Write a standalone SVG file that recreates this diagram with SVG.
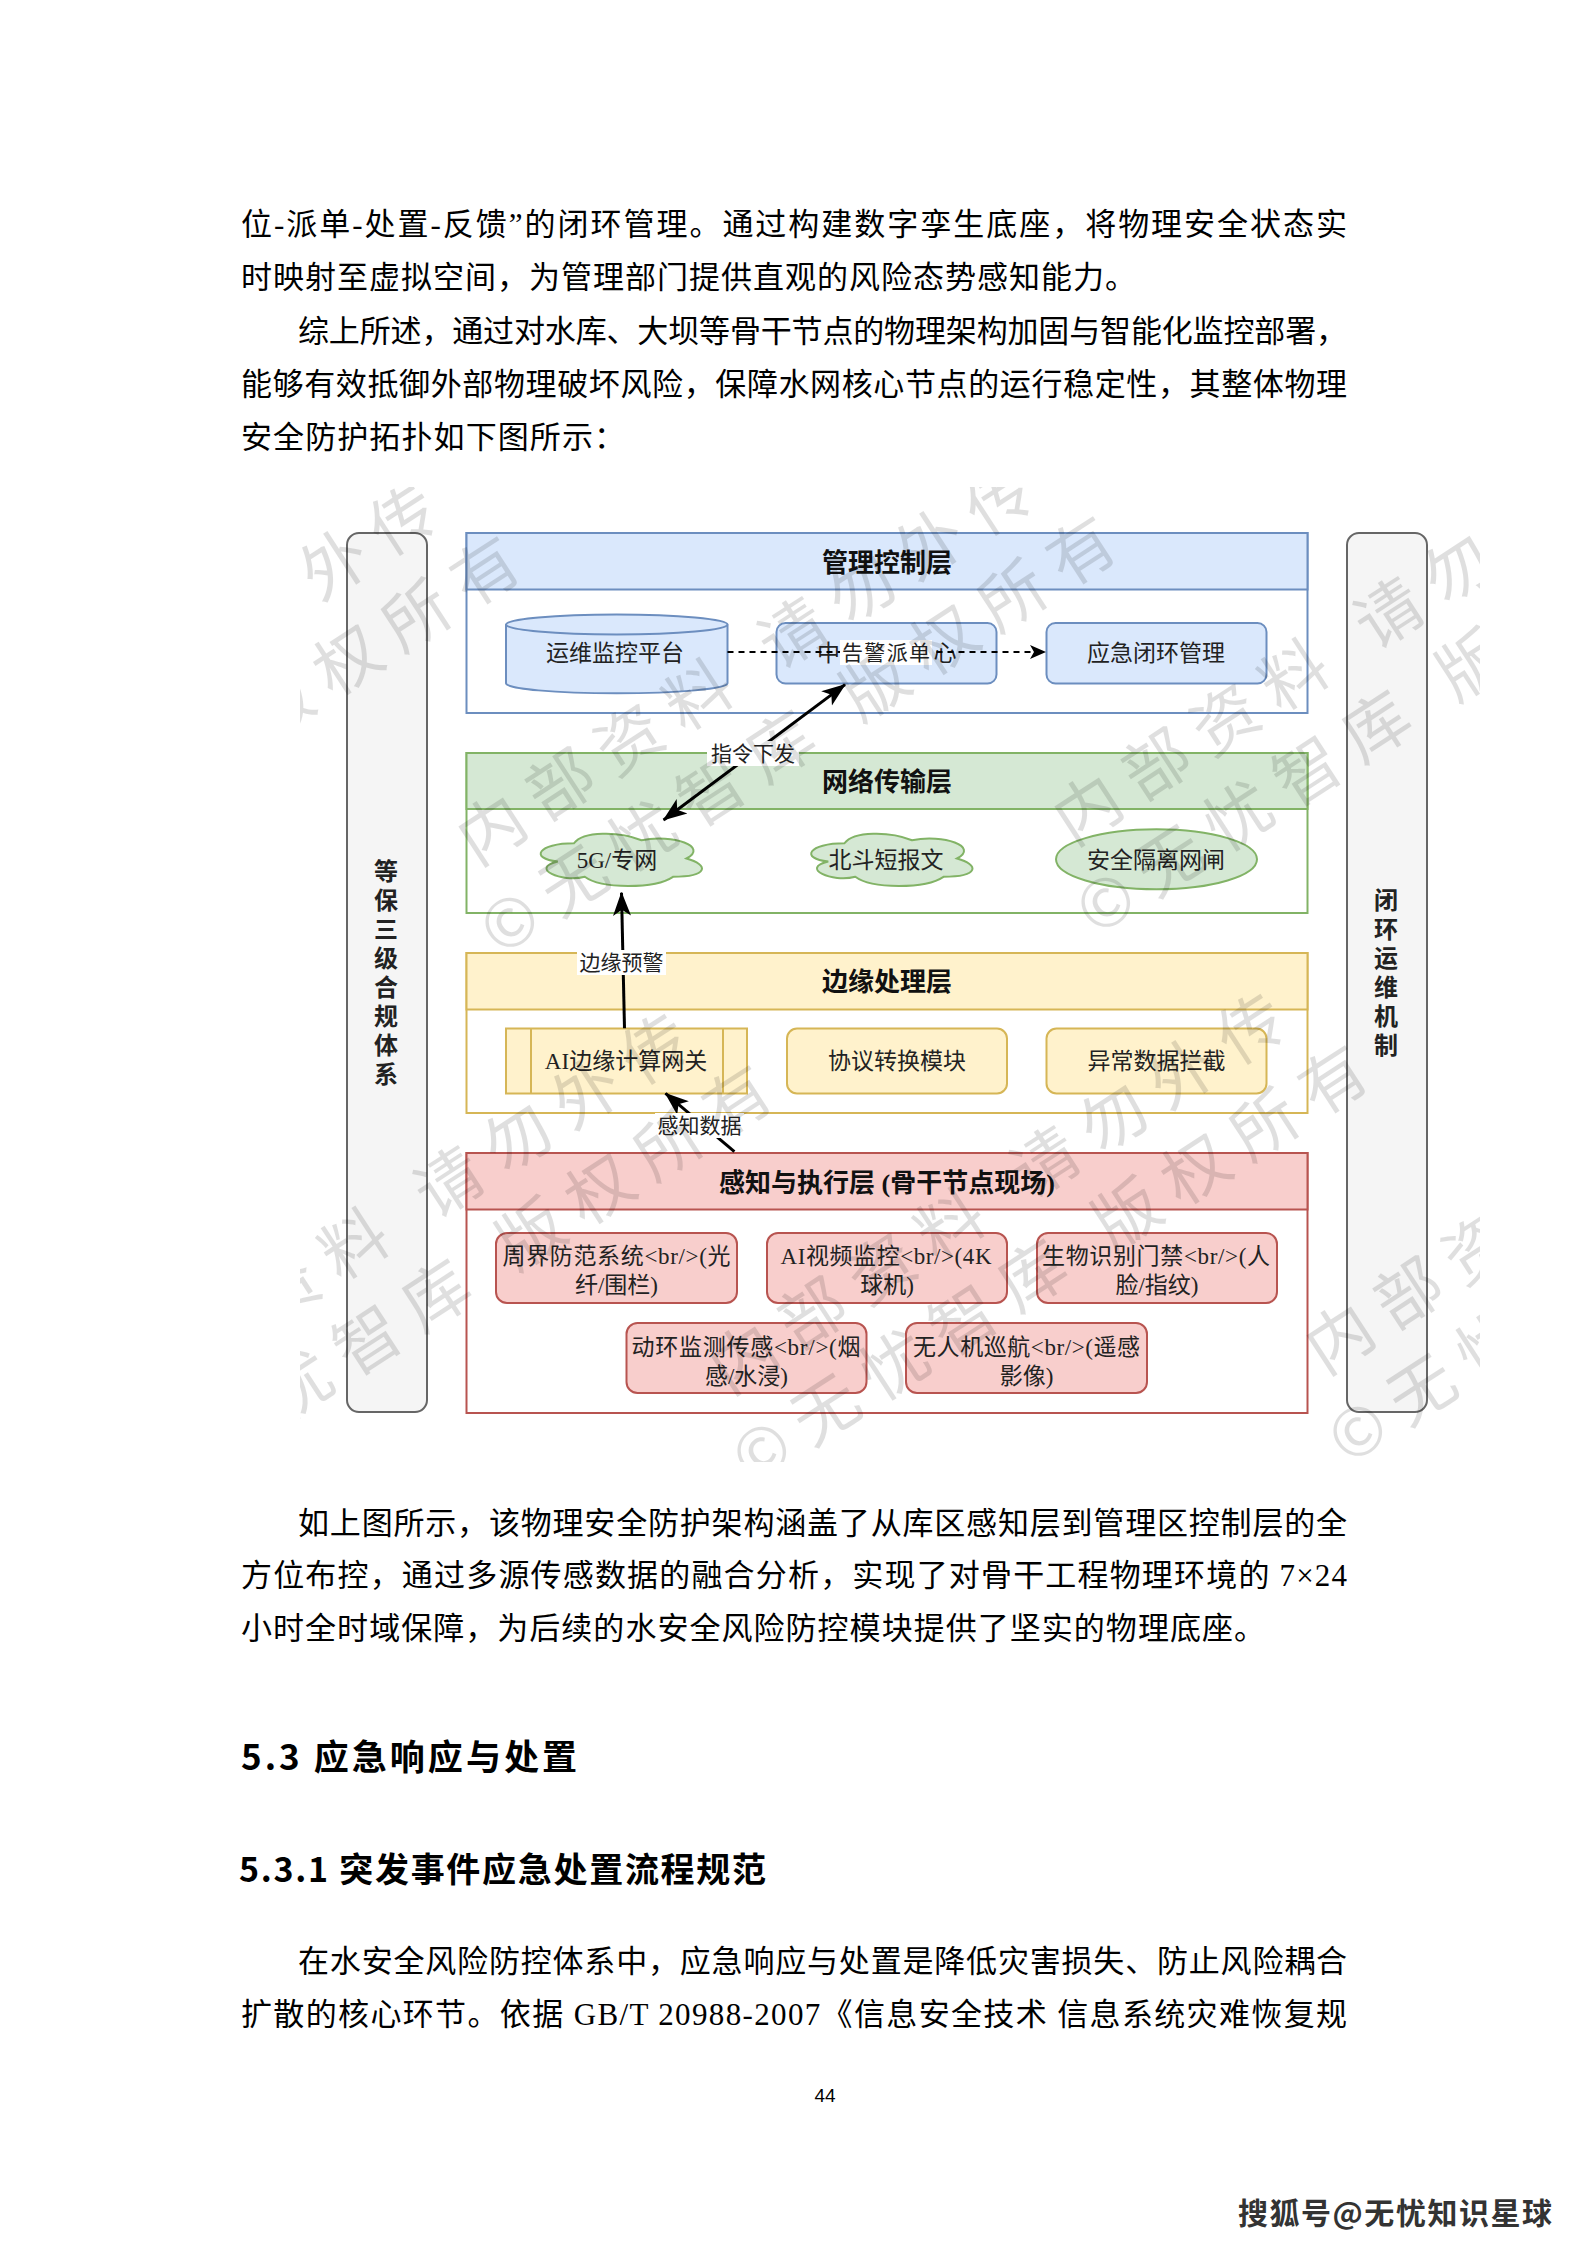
<svg xmlns="http://www.w3.org/2000/svg" width="1587" height="2245" viewBox="0 0 1587 2245">
<defs>
<style>
.body{font-family:"Liberation Serif","Noto Sans CJK SC",serif;font-size:31px;fill:#000}
.h{font-family:"Noto Sans CJK SC",sans-serif;font-weight:bold;fill:#000}
.nt{font-family:"Liberation Serif","Noto Sans CJK SC",serif;font-size:23px;fill:#222;text-anchor:middle}
.hd{font-family:"Liberation Serif","Noto Sans CJK SC",serif;font-size:26px;font-weight:bold;fill:#111;text-anchor:middle}
.lb{font-family:"Liberation Serif","Noto Sans CJK SC",serif;font-size:21px;fill:#222;text-anchor:middle}
.bar{fill:#f5f5f5;stroke:#666;stroke-width:2}
.bt{font-family:"Noto Sans CJK SC",sans-serif;font-size:24px;font-weight:bold;fill:#222;text-anchor:middle;writing-mode:vertical-rl;letter-spacing:5px}
.blue{fill:#dae8fc;stroke:#6c8ebf;stroke-width:2}
.green{fill:#d5e8d4;stroke:#82b366;stroke-width:2}
.yellow{fill:#fff2cc;stroke:#d6b656;stroke-width:2}
.red{fill:#f8cecc;stroke:#b85450;stroke-width:2}
.wb{fill:#fff;stroke-width:2}
.edge{fill:none;stroke:#000;stroke-width:3}
.lbg{fill:#fff}
.wm{font-family:"Noto Sans CJK SC",sans-serif;font-size:66px;letter-spacing:16px;fill:#000;opacity:0.12}
</style>
<marker id="arr" markerUnits="userSpaceOnUse" markerWidth="24" markerHeight="20" viewBox="0 0 24 20" refX="23" refY="10" orient="auto"><path d="M0,1 L24,10 L0,19 L6,10 Z" fill="#000"/></marker>
<marker id="arr2" markerUnits="userSpaceOnUse" markerWidth="24" markerHeight="20" viewBox="0 0 24 20" refX="23" refY="10" orient="auto-start-reverse"><path d="M0,1 L24,10 L0,19 L6,10 Z" fill="#000"/></marker>
<marker id="arrS" markerUnits="userSpaceOnUse" markerWidth="16" markerHeight="14" viewBox="0 0 16 14" refX="15" refY="7" orient="auto"><path d="M0,0 L16,7 L0,14 L4,7 Z" fill="#000"/></marker>
<path id="cloud" vector-effect="non-scaling-stroke" d="M25,25 C5,25 0,50 16,55 C0,66 18,90 31,80 C40,100 70,100 80,80 C100,80 100,60 87.5,50 C100,30 80,10 62.5,20 C50,5 30,5 25,25 Z"/>
<clipPath id="imgclip"><rect x="300" y="487" width="1180" height="975"/></clipPath>
</defs>
<rect x="0" y="0" width="1587" height="2245" fill="#fff"/>

<g id="text-top">
<text class="body" x="241" y="235" textLength="1106" lengthAdjust="spacing">位-派单-处置-反馈”的闭环管理。通过构建数字孪生底座，将物理安全状态实</text>
<text class="body" x="241" y="288" textLength="895" lengthAdjust="spacing">时映射至虚拟空间，为管理部门提供直观的风险态势感知能力。</text>
<text class="body" x="298" y="342" textLength="1049" lengthAdjust="spacing">综上所述，通过对水库、大坝等骨干节点的物理架构加固与智能化监控部署，</text>
<text class="body" x="241" y="395" textLength="1106" lengthAdjust="spacing">能够有效抵御外部物理破坏风险，保障水网核心节点的运行稳定性，其整体物理</text>
<text class="body" x="241" y="448" textLength="384" lengthAdjust="spacing">安全防护拓扑如下图所示：</text>
</g>

<g id="sidebar-left"><rect class="bar" x="347" y="533" width="80" height="879" rx="12"/>
<text class="bt" x="386" y="975">等保三级合规体系</text></g>
<g id="sidebar-right"><rect class="bar" x="1347" y="533" width="80" height="879" rx="12"/>
<text class="bt" x="1386" y="975">闭环运维机制</text></g>

<g id="layer-mgmt"><rect class="wb" stroke="#6c8ebf" x="466.5" y="533" width="841" height="180"/><rect class="blue" x="466.5" y="533" width="841" height="56.5"/><text class="hd" x="887" y="572">管理控制层</text></g>
<g id="layer-net"><rect class="wb" stroke="#82b366" x="466.5" y="753" width="841" height="160"/><rect class="green" x="466.5" y="753" width="841" height="56"/><text class="hd" x="887" y="791">网络传输层</text></g>
<g id="layer-edge"><rect class="wb" stroke="#d6b656" x="466.5" y="953" width="841" height="160"/><rect class="yellow" x="466.5" y="953" width="841" height="56.5"/><text class="hd" x="887" y="991">边缘处理层</text></g>
<g id="layer-sense"><rect class="wb" stroke="#b85450" x="466.5" y="1153" width="841" height="260"/><rect class="red" x="466.5" y="1153" width="841" height="56.5"/><text class="hd" x="887" y="1192">感知与执行层 (骨干节点现场)</text></g>

<g id="node-ops"><path class="blue" d="M506,624.5 A110.75,10 0 0 1 727.5,624.5 L727.5,683.3 A110.75,10 0 0 1 506,683.3 Z"/><path fill="none" stroke="#6c8ebf" stroke-width="2" d="M506,624.5 A110.75,10 0 0 0 727.5,624.5"/><text class="nt" x="615" y="661">运维监控平台</text></g>
<g id="node-alarm"><rect class="blue" x="776.5" y="623" width="220" height="60.5" rx="9"/><text class="nt" x="828.5" y="661">中</text><text class="nt" x="945" y="661">心</text></g>
<g id="node-emerg"><rect class="blue" x="1046.5" y="623" width="220" height="60.5" rx="9"/><text class="nt" x="1156" y="661">应急闭环管理</text></g>

<g id="node-5g"><use href="#cloud" class="green" transform="translate(529,828) scale(1.8,0.61)"/><text class="nt" x="617" y="868">5G/专网</text></g>
<g id="node-bd"><use href="#cloud" class="green" transform="translate(799.5,828) scale(1.8,0.61)"/><text class="nt" x="886" y="868">北斗短报文</text></g>
<g id="node-gap"><ellipse class="green" cx="1156.5" cy="859.3" rx="100.5" ry="30"/><text class="nt" x="1156" y="868">安全隔离网闸</text></g>

<g id="node-ai"><rect class="yellow" x="506" y="1028.5" width="241" height="65"/><line x1="531" y1="1028.5" x2="531" y2="1093.5" stroke="#d6b656" stroke-width="2"/><line x1="723" y1="1028.5" x2="723" y2="1093.5" stroke="#d6b656" stroke-width="2"/><text class="nt" x="626" y="1069">AI边缘计算网关</text></g>
<g id="node-proto"><rect class="yellow" x="787" y="1028.5" width="220" height="65" rx="10"/><text class="nt" x="897" y="1069">协议转换模块</text></g>
<g id="node-anom"><rect class="yellow" x="1046.5" y="1028.5" width="220" height="65" rx="10"/><text class="nt" x="1156.5" y="1069">异常数据拦截</text></g>

<g id="node-perim"><rect class="red" x="496" y="1233" width="241" height="70" rx="11"/><text class="nt" x="616.5" y="1264" textLength="228" lengthAdjust="spacing">周界防范系统&lt;br/&gt;(光</text><text class="nt" x="616.5" y="1293">纤/围栏)</text></g>
<g id="node-video"><rect class="red" x="767" y="1233" width="240" height="70" rx="11"/><text class="nt" x="886" y="1264" textLength="211" lengthAdjust="spacing">AI视频监控&lt;br/&gt;(4K</text><text class="nt" x="887" y="1293">球机)</text></g>
<g id="node-bio"><rect class="red" x="1037" y="1233" width="240" height="70" rx="11"/><text class="nt" x="1156" y="1264" textLength="228" lengthAdjust="spacing">生物识别门禁&lt;br/&gt;(人</text><text class="nt" x="1157" y="1293">脸/指纹)</text></g>
<g id="node-env"><rect class="red" x="626.5" y="1323" width="240" height="70" rx="11"/><text class="nt" x="746" y="1355" textLength="229" lengthAdjust="spacing">动环监测传感&lt;br/&gt;(烟</text><text class="nt" x="746.5" y="1384">感/水浸)</text></g>
<g id="node-uav"><rect class="red" x="906" y="1323" width="241" height="70" rx="11"/><text class="nt" x="1026.5" y="1355" textLength="227" lengthAdjust="spacing">无人机巡航&lt;br/&gt;(遥感</text><text class="nt" x="1026.5" y="1384">影像)</text></g>

<g id="connectors">
<line x1="727.5" y1="652" x2="1045" y2="652" stroke="#000" stroke-width="2" stroke-dasharray="6,5" marker-end="url(#arrS)"/>
<rect class="lbg" x="840" y="640" width="92" height="25"/>
<text class="lb" x="886" y="660" textLength="88" lengthAdjust="spacing">告警派单</text>
<line class="edge" x1="663.6" y1="820" x2="845" y2="684.6" marker-start="url(#arr2)" marker-end="url(#arr2)"/>
<rect class="lbg" x="707" y="741" width="92" height="25"/>
<text class="lb" x="753" y="761">指令下发</text>
<line class="edge" x1="624.5" y1="1028.3" x2="621.5" y2="892.7" marker-end="url(#arr)"/>
<rect class="lbg" x="577" y="950" width="89" height="25"/>
<text class="lb" x="621.5" y="970">边缘预警</text>
<line class="edge" x1="734.4" y1="1151.7" x2="665.5" y2="1093.3" marker-end="url(#arr)"/>
<rect class="lbg" x="655" y="1113" width="89" height="25"/>
<text class="lb" x="699.5" y="1133">感知数据</text>
</g>

<g id="watermark" clip-path="url(#imgclip)">
<g transform="translate(-119,887) rotate(-33)"><text class="wm">内部资料 请勿外传</text><text class="wm" x="-30" y="88">©无忧智库 版权所有</text></g>
<g transform="translate(477,867) rotate(-33)"><text class="wm">内部资料 请勿外传</text><text class="wm" x="-30" y="88">©无忧智库 版权所有</text></g>
<g transform="translate(1073,847) rotate(-33)"><text class="wm">内部资料 请勿外传</text><text class="wm" x="-30" y="88">©无忧智库 版权所有</text></g>
<g transform="translate(133,1416) rotate(-33)"><text class="wm">内部资料 请勿外传</text><text class="wm" x="-30" y="88">©无忧智库 版权所有</text></g>
<g transform="translate(729,1396) rotate(-33)"><text class="wm">内部资料 请勿外传</text><text class="wm" x="-30" y="88">©无忧智库 版权所有</text></g>
<g transform="translate(1325,1376) rotate(-33)"><text class="wm">内部资料 请勿外传</text><text class="wm" x="-30" y="88">©无忧智库 版权所有</text></g>
</g>

<g id="text-bottom">
<text class="body" x="298" y="1534" textLength="1049" lengthAdjust="spacing">如上图所示，该物理安全防护架构涵盖了从库区感知层到管理区控制层的全</text>
<text class="body" x="241" y="1586" textLength="1106" lengthAdjust="spacing">方位布控，通过多源传感数据的融合分析，实现了对骨干工程物理环境的 7×24</text>
<text class="body" x="241" y="1639" textLength="1024" lengthAdjust="spacing">小时全时域保障，为后续的水安全风险防控模块提供了坚实的物理底座。</text>
<text class="h" x="241" y="1770" font-size="35" textLength="336" lengthAdjust="spacing">5.3 应急响应与处置</text>
<text class="h" x="239" y="1882" font-size="34" textLength="527" lengthAdjust="spacing">5.3.1 突发事件应急处置流程规范</text>
<text class="body" x="298" y="1972" textLength="1049" lengthAdjust="spacing">在水安全风险防控体系中，应急响应与处置是降低灾害损失、防止风险耦合</text>
<text class="body" x="241" y="2025" textLength="1106" lengthAdjust="spacing">扩散的核心环节。依据 GB/T 20988-2007《信息安全技术 信息系统灾难恢复规</text>
<text x="825" y="2102" font-family="Liberation Sans, sans-serif" font-size="19" text-anchor="middle" fill="#000">44</text>
<text x="1238" y="2224" font-family="Noto Sans CJK SC, sans-serif" font-size="30" font-weight="bold" fill="#333" textLength="314" lengthAdjust="spacing">搜狐号@无忧知识星球</text>
</g>
</svg>
